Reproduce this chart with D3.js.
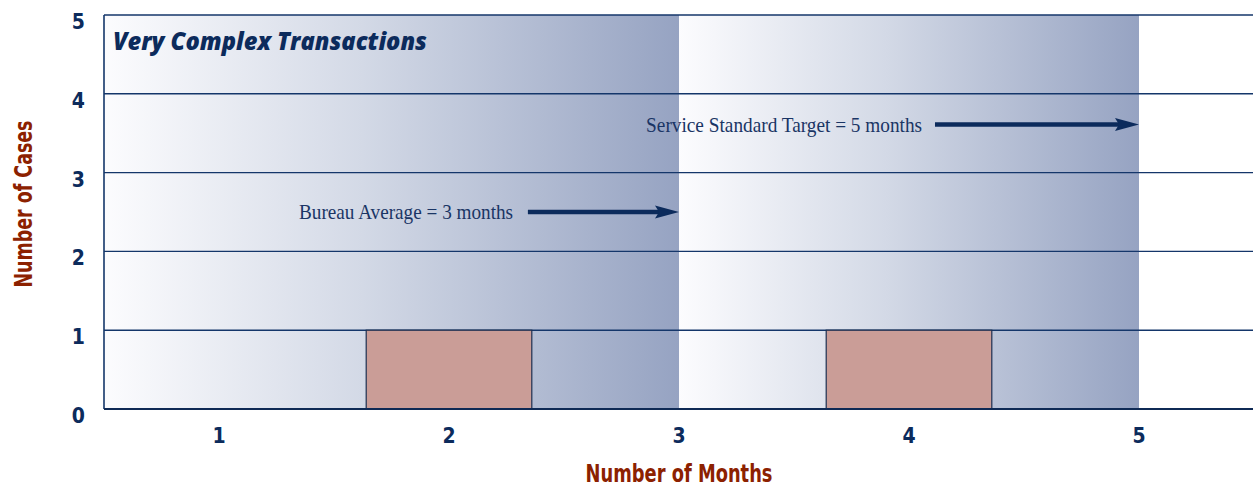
<!DOCTYPE html>
<html>
<head>
<meta charset="utf-8">
<script src="https://cdn.jsdelivr.net/npm/d3@7"></script>
<style>
  html, body { margin: 0; padding: 0; background: #ffffff; }
  svg { display: block; }
</style>
</head>
<body>
<script>
// ---- data ----
const months = [1, 2, 3, 4, 5];
const cases = [0, 1, 0, 1, 0];
const yTicks = [0, 1, 2, 3, 4, 5];
const xTickLabels = ["1", "2", "3", "4", "5"];
const bands = [[0.5, 3], [3, 5]];
const chartTitle = "Very Complex Transactions";
const xTitle = "Number of Months";
const yTitle = "Number of Cases";
const annotations = [
  { text: "Bureau Average = 3 months", value: 3, level: 2.5, textStart: 1.348, arrowStart: 2.343 },
  { text: "Service Standard Target = 5 months", value: 5, level: 3.61, textStart: 2.857, arrowStart: 4.113 }
];

const W = 1255, H = 489;
const NAVY = "#0c2b5c", RED = "#8c2100";
const m = { left: 104, right: 1, top: 15, bottom: 80 };

const svg = d3.select("body").append("svg").attr("width", W).attr("height", H);
const defs = svg.append("defs");

const x = d3.scaleLinear().domain([0.5, 5.5]).range([m.left, W - m.right]);
const y = d3.scaleLinear().domain([0, 5]).range([H - m.bottom, m.top]);

// gradient
const grad = defs.append("linearGradient").attr("id", "bandGrad")
  .attr("x1", "0%").attr("x2", "100%").attr("y1", "0%").attr("y2", "0%");
grad.append("stop").attr("offset", "0%").attr("stop-color", "#fcfcfe");
grad.append("stop").attr("offset", "45%").attr("stop-color", "#d3d9e6");
grad.append("stop").attr("offset", "100%").attr("stop-color", "#96a3c2");

svg.append("g").selectAll("rect").data(bands).join("rect")
  .attr("x", d => x(d[0])).attr("width", d => x(d[1]) - x(d[0]))
  .attr("y", y(5)).attr("height", y(0) - y(5))
  .attr("fill", "url(#bandGrad)");

// gridlines
svg.append("g").selectAll("line").data(yTicks.filter(d => d > 0)).join("line")
  .attr("x1", x(0.5)).attr("x2", W - 2)
  .attr("y1", d => y(d)).attr("y2", d => y(d))
  .attr("stroke", "#14366a").attr("stroke-width", 1.4);

// bars
const bw = x(1.36) - x(0.64);
svg.append("g").selectAll("rect").data(months.map((mm, i) => ({ m: mm, v: cases[i] }))).join("rect")
  .attr("x", d => x(d.m) - bw / 2).attr("width", bw)
  .attr("y", d => y(d.v)).attr("height", d => y(0) - y(d.v))
  .attr("fill", "#ca9d97").attr("stroke", "#1d2f50").attr("stroke-width", 1.2);

// axes lines
svg.append("line").attr("x1", x(0.5)).attr("x2", x(0.5)).attr("y1", y(5)).attr("y2", y(0))
  .attr("stroke", "#14366a").attr("stroke-width", 1.6);
svg.append("line").attr("x1", x(0.5)).attr("x2", W - 2).attr("y1", y(0)).attr("y2", y(0))
  .attr("stroke", "#0f2a55").attr("stroke-width", 2);

const condFont = "'Liberation Sans Narrow', 'DejaVu Sans Condensed', 'Roboto', sans-serif";

// y tick labels
svg.append("g").selectAll("text").data(yTicks).join("text")
  .attr("x", 85).attr("y", d => y(d) + 14)
  .attr("text-anchor", "end")
  .attr("font-family", condFont).attr("font-weight", 900).attr("font-size", 21)
  .attr("fill", NAVY)
  .text(d => d);

// x tick labels
svg.append("g").selectAll("text").data(months).join("text")
  .attr("x", d => x(d)).attr("y", y(0) + 34)
  .attr("text-anchor", "middle")
  .attr("font-family", condFont).attr("font-weight", 900).attr("font-size", 21)
  .attr("fill", NAVY)
  .text((d, i) => xTickLabels[i]);

// title
svg.append("text").attr("x", 113).attr("y", 50)
  .attr("font-family", "'Open Sans', 'Liberation Sans', sans-serif")
  .attr("font-weight", 800).attr("font-style", "italic").attr("font-size", 25)
  .attr("textLength", 314).attr("lengthAdjust", "spacingAndGlyphs")
  .attr("fill", NAVY).text(chartTitle);

// axis titles
svg.append("text").attr("x", x(3)).attr("y", 482)
  .attr("text-anchor", "middle")
  .attr("font-family", condFont).attr("font-weight", 700).attr("font-size", 24)
  .attr("textLength", 187).attr("lengthAdjust", "spacingAndGlyphs")
  .attr("fill", RED).text(xTitle);

svg.append("text").attr("transform", "translate(32,204) rotate(-90)")
  .attr("text-anchor", "middle")
  .attr("font-family", condFont).attr("font-weight", 700).attr("font-size", 24)
  .attr("textLength", 167).attr("lengthAdjust", "spacingAndGlyphs")
  .attr("fill", RED).text(yTitle);

// annotations with arrows
const ann = svg.append("g").selectAll("g").data(annotations).join("g");
ann.append("text")
  .attr("x", d => x(d.textStart)).attr("y", d => y(d.level) + 7)
  .attr("font-family", "'Liberation Serif', 'DejaVu Serif', serif").attr("font-size", 21)
  .attr("textLength", (d, i) => i === 0 ? 214 : 276).attr("lengthAdjust", "spacingAndGlyphs")
  .attr("fill", "#1a3565").text(d => d.text);
ann.append("line")
  .attr("x1", d => x(d.arrowStart)).attr("x2", d => x(d.value) - 16)
  .attr("y1", d => y(d.level)).attr("y2", d => y(d.level))
  .attr("stroke", NAVY).attr("stroke-width", 4.5);
ann.append("path")
  .attr("d", d => {
    const tx = x(d.value), ty = y(d.level);
    return `M${tx},${ty} L${tx - 24},${ty - 6.5} L${tx - 20},${ty} L${tx - 24},${ty + 6.5} Z`;
  })
  .attr("fill", NAVY);
</script>
</body>
</html>
